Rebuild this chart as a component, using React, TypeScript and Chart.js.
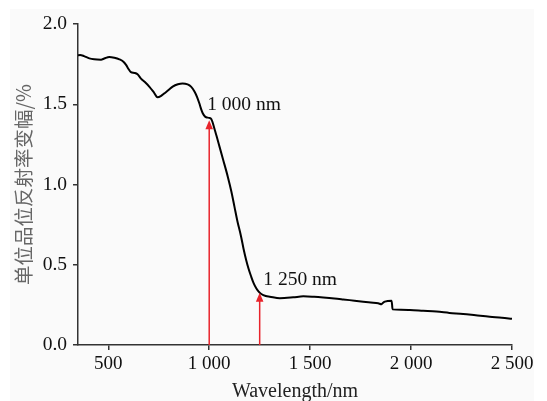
import React, { useEffect, useRef } from "react";
import { Chart, registerables } from "chart.js";

Chart.register(...registerables);

const wavelengths = [
  350, 360, 380, 406, 430, 464, 480, 505, 530, 555, 575, 588, 600, 612, 630, 645, 662, 680, 703, 725,
  744, 760, 778, 800, 819, 845, 868, 893, 910, 927, 940, 951, 960, 968, 978, 985, 1000, 1010, 1030,
  1051, 1070, 1092, 1110, 1125, 1140, 1158, 1170, 1183, 1195, 1208, 1220, 1233, 1245, 1258, 1280,
  1300, 1350, 1416, 1466, 1520, 1565, 1620, 1664, 1720, 1763, 1800, 1837, 1854, 1860, 1870, 1903,
  1906, 1908, 1950, 1994, 2060, 2126, 2190, 2258, 2320, 2390, 2450, 2500,
];
const amplitude = [
  1.805, 1.807, 1.8, 1.786, 1.78, 1.778, 1.785, 1.795, 1.79, 1.78, 1.765, 1.745, 1.72, 1.7, 1.695,
  1.687, 1.66, 1.64, 1.61, 1.575, 1.543, 1.55, 1.568, 1.59, 1.61, 1.625, 1.63, 1.624, 1.61, 1.58,
  1.545, 1.506, 1.47, 1.444, 1.425, 1.419, 1.415, 1.408, 1.33, 1.236, 1.15, 1.049, 0.955, 0.862,
  0.77, 0.675, 0.6, 0.53, 0.475, 0.426, 0.385, 0.353, 0.333, 0.318, 0.305, 0.301, 0.292, 0.297,
  0.303, 0.3, 0.296, 0.29, 0.284, 0.276, 0.27, 0.265, 0.26, 0.254, 0.262, 0.27, 0.276, 0.25, 0.222,
  0.22, 0.218, 0.213, 0.208, 0.2, 0.193, 0.185, 0.176, 0.17, 0.163,
];

const xTicks = [500, 1000, 1500, 2000, 2500];
const xTickLabels = ["500", "1 000", "1 500", "2 000", "2 500"];
const yTicks = [0, 0.5, 1.0, 1.5, 2.0];
const yTickLabels = ["0.0", "0.5", "1.0", "1.5", "2.0"];

const arrowX = [1000, 1250];
const arrowTop = [1.4, 0.326];
const arrowLabels = ["1 000 nm", "1 250 nm"];
const labelX = [990, 1268];
const labelY = [1.495, 0.405];

const xTitle = "Wavelength/nm";
const yTitle = "单位品位反射率变幅/%";

const SERIF = "'Liberation Serif', 'Times New Roman', serif";

const bgPlugin = {
  id: "bgPlugin",
  beforeDraw(chart: any) {
    const { ctx, width, height } = chart;
    ctx.save();
    ctx.fillStyle = "#ffffff";
    ctx.fillRect(0, 0, width, height);
    ctx.fillStyle = "#fafafa";
    ctx.fillRect(10, 9, 524, height - 9);
    ctx.restore();
  },
};

const arrowPlugin = {
  id: "arrowPlugin",
  afterDatasetsDraw(chart: any) {
    const { ctx } = chart;
    const xs = chart.scales.x;
    const ys = chart.scales.y;
    ctx.save();
    for (let i = 0; i < arrowX.length; i++) {
      const px = xs.getPixelForValue(arrowX[i]);
      const pTop = ys.getPixelForValue(arrowTop[i]);
      const pBot = ys.getPixelForValue(0);
      ctx.strokeStyle = "#e8232b";
      ctx.fillStyle = "#e8232b";
      ctx.lineWidth = 1.5;
      ctx.beginPath();
      ctx.moveTo(px, pBot);
      ctx.lineTo(px, pTop + 6);
      ctx.stroke();
      ctx.beginPath();
      ctx.moveTo(px, pTop);
      ctx.lineTo(px - 3.8, pTop + 9);
      ctx.lineTo(px + 3.8, pTop + 9);
      ctx.closePath();
      ctx.fill();
      ctx.fillStyle = "#111111";
      ctx.font = `19.5px ${SERIF}`;
      ctx.textAlign = "left";
      ctx.textBaseline = "middle";
      ctx.fillText(arrowLabels[i], xs.getPixelForValue(labelX[i]), ys.getPixelForValue(labelY[i]));
    }
    ctx.restore();
  },
};

export default function App() {
  const ref = useRef<HTMLCanvasElement | null>(null);
  useEffect(() => {
    if (!ref.current) return;
    const chart = new Chart(ref.current, {
      type: "line",
      data: {
        datasets: [
          {
            data: wavelengths.map((w, i) => ({ x: w, y: amplitude[i] })),
            borderColor: "#000000",
            borderWidth: 2,
            pointRadius: 0,
            cubicInterpolationMode: "monotone",
            fill: false,
          },
        ],
      },
      options: {
        animation: false,
        responsive: false,
        layout: { padding: { left: 0, top: 24, right: 35, bottom: 0 } },
        plugins: { legend: { display: false }, tooltip: { enabled: false } },
        scales: {
          x: {
            type: "linear",
            min: 350,
            max: 2500,
            afterBuildTicks: (s: any) => {
              s.ticks = xTicks.map((v) => ({ value: v }));
            },
            afterFit: (s: any) => {
              s.height = 56;
            },
            ticks: {
              color: "#111111",
              font: { family: SERIF, size: 19 },
              padding: 3,
              maxRotation: 0,
              callback: (v: any) => {
                const i = xTicks.indexOf(Number(v));
                return i >= 0 ? xTickLabels[i] : "";
              },
            },
            grid: { display: true, drawOnChartArea: false, drawTicks: true, tickLength: 5, color: "#333333", lineWidth: 1.5 },
            border: { display: true, color: "#333333", width: 1.5 },
            title: {
              display: true,
              text: xTitle,
              color: "#222222",
              font: { family: SERIF, size: 20 },
              padding: { top: 0, bottom: -3 },
            },
          },
          y: {
            type: "linear",
            min: 0,
            max: 2,
            afterBuildTicks: (s: any) => {
              s.ticks = yTicks.map((v) => ({ value: v }));
            },
            afterFit: (s: any) => {
              s.width = 78;
            },
            ticks: {
              color: "#111111",
              font: { family: SERIF, size: 19.5 },
              padding: 6,
              callback: (v: any) => {
                const i = yTicks.indexOf(Number(v));
                return i >= 0 ? yTickLabels[i] : "";
              },
            },
            grid: { display: true, drawOnChartArea: false, drawTicks: true, tickLength: 5, color: "#333333", lineWidth: 1.5 },
            border: { display: true, color: "#333333", width: 1.5 },
            title: {
              display: true,
              text: yTitle,
              color: "#666666",
              font: { family: "'Noto Sans CJK SC', " + SERIF, size: 19.5 },
              padding: { top: 12, bottom: 0 },
            },
          },
        },
      },
      plugins: [bgPlugin, arrowPlugin],
    } as any);
    return () => chart.destroy();
  }, []);
  return (
    <div style={{ position: "fixed", left: 0, top: 0, width: 547, height: 401 }}>
      <canvas ref={ref} width={547} height={401} />
    </div>
  );
}
